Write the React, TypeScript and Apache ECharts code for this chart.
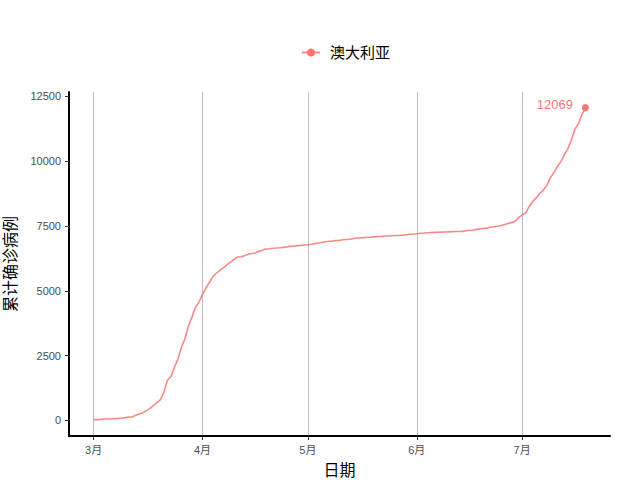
import { useEffect, useRef } from "react";
import * as echarts from "echarts";

// 2020-03-01 .. 2020-07-19, one value per day
const startDate = [2020, 2, 1];
const cases = [
  27, 30, 39, 52, 55, 60, 63, 76, 91, 107, 128, 128, 200, 250, 297, 377, 452, 568, 681, 791,
  1071, 1549, 1682, 2044, 2364, 2810, 3143, 3640, 3984, 4361, 4559,
  4862, 5116, 5330, 5550, 5687, 5797, 5895, 6010, 6108, 6215, 6303, 6315, 6351, 6415, 6440,
  6462, 6522, 6565, 6610, 6623, 6645, 6652, 6662, 6677, 6694, 6714, 6721, 6744, 6752, 6766,
  6778, 6799, 6822, 6847, 6875, 6894, 6913, 6918, 6939, 6948, 6970, 6980, 6989, 7019, 7035,
  7044, 7054, 7068, 7072, 7081, 7095, 7099, 7114, 7114, 7126, 7133, 7139, 7150, 7165, 7184, 7192,
  7202, 7221, 7229, 7240, 7247, 7255, 7259, 7265, 7267, 7276, 7285, 7289, 7290, 7294, 7320,
  7335, 7347, 7370, 7391, 7409, 7411, 7461, 7474, 7492, 7521, 7558, 7595, 7641, 7686, 7834,
  7920, 8001, 8255, 8449, 8586, 8755, 8886, 9059, 9359, 9553, 9797, 9980, 10251, 10487,
  10810, 11235, 11441, 11802, 12069,
];
const monthTicks = [
  [2020, 2, 1],
  [2020, 3, 1],
  [2020, 4, 1],
  [2020, 5, 1],
  [2020, 6, 1],
];
const yTicks = [0, 2500, 5000, 7500, 10000, 12500];
const seriesName = "澳大利亚";

const FONT = "'Liberation Sans', 'Noto Sans CJK SC', sans-serif";
const LINE_COLOR = "#F8766D";
const DAY = 24 * 3600 * 1000;

function App() {
  const chartRef = useRef<HTMLDivElement>(null);

  useEffect(() => {
    if (!chartRef.current) return;
    const chart = echarts.init(chartRef.current, null, { renderer: "svg" });

    // x is days since the first date
    const t0 = new Date(startDate[0], startDate[1], startDate[2]).getTime();
    const points = cases.map((v, i) => [i, v]);
    const lastIdx = points.length - 1;
    const tickDays = monthTicks.map((m) =>
      Math.round((new Date(m[0], m[1], m[2]).getTime() - t0) / DAY)
    );
    const maxV = cases[lastIdx];
    const pad = maxV * 0.05;
    const xPad = lastIdx * 0.05;

    chart.setOption({
      animation: false,
      textStyle: { fontFamily: FONT },
      legend: {
        top: 40,
        left: 296,
        itemWidth: 18,
        itemHeight: 10,
        itemGap: 10,
        textStyle: { fontSize: 15, color: "#000", fontFamily: FONT, padding: [0, 0, 0, 5] },
        data: [seriesName],
      },
      grid: { left: 69, right: 30, top: 92, bottom: 44, outerBoundsMode: "none", containLabel: false },
      xAxis: {
        type: "value",
        min: -xPad,
        max: lastIdx + xPad,
        name: "日期",
        nameLocation: "middle",
        nameGap: 26,
        nameTextStyle: { fontSize: 16, color: "#000" },
        axisLine: { show: true, onZero: false, lineStyle: { color: "#000", width: 2 } },
        axisTick: { show: true, length: 4, lineStyle: { color: "#333" }, customValues: tickDays },
        axisLabel: {
          customValues: tickDays,
          color: "#4d4d4d",
          fontSize: 11,
          margin: 8,
          formatter: (v: number) => new Date(t0 + v * DAY).getMonth() + 1 + "月",
        },
        splitLine: { show: true, lineStyle: { color: "#bdbdbd", width: 1 } },
      },
      yAxis: {
        type: "value",
        min: -pad,
        max: maxV + pad,
        name: "累计确诊病例",
        nameLocation: "middle",
        nameGap: 51,
        nameTextStyle: { fontSize: 16, color: "#000" },
        axisLine: { show: true, onZero: false, lineStyle: { color: "#000", width: 2 } },
        axisTick: { show: true, length: 4, lineStyle: { color: "#333" }, customValues: yTicks },
        axisLabel: {
          customValues: yTicks,
          color: "#4d4d4d",
          fontSize: 11,
          margin: 8,
          formatter: (v: number) => String(v),
        },
        splitLine: { show: false },
      },
      series: [
        {
          name: seriesName,
          type: "line",
          data: points,
          color: LINE_COLOR,
          symbol: "circle",
          showSymbol: true,
          symbolSize: (_: unknown, p: { dataIndex: number }) => (p.dataIndex === lastIdx ? 7 : 0),
          lineStyle: { color: LINE_COLOR, width: 1.6, opacity: 0.85 },
          itemStyle: { color: LINE_COLOR },
          label: {
            show: true,
            position: "left",
            distance: 9,
            offset: [0, -3],
            color: LINE_COLOR,
            fontSize: 13,
            formatter: (p: { dataIndex: number; value: number[] }) =>
              p.dataIndex === lastIdx ? String(p.value[1]) : "",
          },
          emphasis: { disabled: true },
        },
      ],
    });

    return () => {
      chart.dispose();
    };
  }, []);

  return (
    <div
      ref={chartRef}
      style={{ position: "fixed", left: 0, top: 0, width: "640px", height: "480px", background: "#fff" }}
    />
  );
}

export default App;
